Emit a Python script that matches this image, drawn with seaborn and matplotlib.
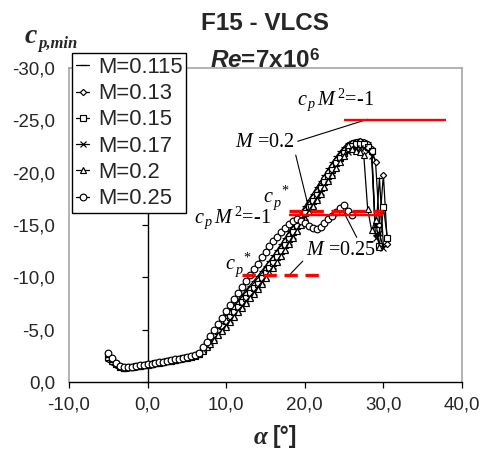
import matplotlib
matplotlib.use("Agg")
import matplotlib.pyplot as plt
import pandas as pd
import seaborn as sns

# ---------------- data ----------------
mach_labels = ["M=0.115", "M=0.13", "M=0.15", "M=0.17", "M=0.2", "M=0.25"]

# angle-of-attack sweep shared by the low-Mach runs (deg), -5 ... 28 every 0.5
alpha_sweep = [
    -5.0, -4.5, -4.0, -3.5, -3.0, -2.5, -2.0, -1.5, -1.0, -0.5,
    0.0, 0.5, 1.0, 1.5, 2.0, 2.5, 3.0, 3.5, 4.0, 4.5,
    5.0, 5.5, 6.0, 6.5, 7.0, 7.5, 8.0, 8.5, 9.0, 9.5,
    10.0, 10.5, 11.0, 11.5, 12.0, 12.5, 13.0, 13.5, 14.0, 14.5,
    15.0, 15.5, 16.0, 16.5, 17.0, 17.5, 18.0, 18.5, 19.0, 19.5,
    20.0, 20.5, 21.0, 21.5, 22.0, 22.5, 23.0, 23.5, 24.0, 24.5,
    25.0, 25.5, 26.0, 26.5, 27.0, 27.5, 28.0,
]

cp_m0115 = [
    -2.0, -1.75, -1.55, -1.4, -1.3, -1.33, -1.38, -1.44, -1.5, -1.56,
    -1.62, -1.68, -1.74, -1.8, -1.86, -1.93, -2.0, -2.07, -2.14, -2.21,
    -2.29, -2.37, -2.46, -2.6, -3.2, -3.75, -4.3, -4.85, -5.4, -5.95,
    -6.5, -6.95, -7.4, -7.85, -8.3, -8.75, -9.2, -9.65, -10.1, -10.6,
    -11.1, -11.6, -12.1, -12.65, -13.2, -13.8, -14.4, -15.0, -15.6, -16.2,
    -16.8, -17.4, -18.0, -18.6, -19.2, -19.8, -20.4, -21.0, -21.55, -22.05,
    -22.5, -22.85, -23.05, -23.15, -23.2, -23.1, -22.9,
]
alpha_tail_m0115 = [28.5, 29.0, 29.5, 30.0]
cp_tail_m0115 = [-22.4, -14.0, -19.5, -13.0]

cp_m013 = [
    -2.2, -1.9, -1.65, -1.43, -1.33, -1.36, -1.41, -1.47, -1.53, -1.59,
    -1.65, -1.71, -1.77, -1.83, -1.89, -1.96, -2.03, -2.1, -2.17, -2.24,
    -2.32, -2.4, -2.49, -2.64, -3.15, -3.65, -4.15, -4.65, -5.15, -5.65,
    -6.15, -6.6, -7.05, -7.5, -7.95, -8.4, -8.85, -9.3, -9.75, -10.25,
    -10.75, -11.25, -11.75, -12.3, -12.85, -13.45, -14.05, -14.65, -15.25, -15.85,
    -16.45, -17.05, -17.65, -18.25, -18.85, -19.45, -20.05, -20.65, -21.2, -21.7,
    -22.2, -22.6, -22.85, -22.95, -23.0, -22.95, -22.7,
]
alpha_tail_m013 = [28.5, 29.0, 29.5, 30.0, 30.5]
cp_tail_m013 = [-22.3, -21.0, -15.0, -19.8, -13.2]

cp_m015 = [
    -2.4, -2.05, -1.72, -1.46, -1.36, -1.39, -1.44, -1.5, -1.55, -1.61,
    -1.67, -1.73, -1.79, -1.85, -1.91, -1.98, -2.05, -2.12, -2.19, -2.26,
    -2.34, -2.42, -2.51, -2.66, -3.1, -3.55, -4.0, -4.45, -4.9, -5.35,
    -5.8, -6.25, -6.7, -7.15, -7.6, -8.05, -8.5, -8.95, -9.4, -9.9,
    -10.4, -10.9, -11.4, -11.95, -12.5, -13.1, -13.7, -14.3, -14.9, -15.5,
    -16.1, -16.7, -17.3, -17.9, -18.5, -19.1, -19.7, -20.3, -20.9, -21.4,
    -21.9, -22.3, -22.55, -22.7, -22.75, -22.7, -22.5,
]
alpha_tail_m015 = [28.5, 29.0, 29.5, 30.0, 30.5]
cp_tail_m015 = [-22.1, -14.5, -13.0, -16.7, -13.8]

cp_m017 = [
    -2.55, -2.1, -1.75, -1.48, -1.37, -1.4, -1.45, -1.51, -1.56, -1.62,
    -1.68, -1.74, -1.8, -1.86, -1.92, -1.99, -2.06, -2.13, -2.2, -2.27,
    -2.35, -2.43, -2.52, -2.67, -3.0, -3.4, -3.8, -4.2, -4.6, -5.0,
    -5.45, -5.9, -6.35, -6.8, -7.25, -7.7, -8.15, -8.6, -9.05, -9.55,
    -10.05, -10.55, -11.05, -11.6, -12.15, -12.75, -13.35, -13.95, -14.55, -15.15,
    -15.75, -16.35, -16.95, -17.55, -18.15, -18.75, -19.35, -19.95, -20.55, -21.05,
    -21.55, -21.95, -22.2, -22.35, -22.4, -22.35, -22.1,
]
alpha_tail_m017 = [28.5, 29.0, 29.5, 30.0]
cp_tail_m017 = [-21.6, -13.8, -14.2, -12.8]

cp_m020 = [
    -2.7, -2.2, -1.8, -1.5, -1.38, -1.41, -1.46, -1.52, -1.57, -1.63,
    -1.69, -1.75, -1.81, -1.87, -1.93, -2.0, -2.07, -2.14, -2.21, -2.28,
    -2.36, -2.44, -2.54, -2.7, -2.95, -3.3, -3.65, -4.05, -4.45, -4.85,
    -5.3, -5.75, -6.2, -6.65, -7.1, -7.55, -8.0, -8.45, -8.9, -9.4,
    -9.9, -10.4, -10.9, -11.45, -12.0, -12.6, -13.2, -13.8, -14.4, -15.0,
    -15.6, -16.2, -16.8, -17.4, -18.0, -18.6, -19.2, -19.8, -20.4, -21.0,
    -21.6, -22.6, -22.3, -22.1, -22.0, -21.7, -16.5,
]
alpha_tail_m020 = [28.5, 29.0, 29.5]
cp_tail_m020 = [-14.5, -15.5, -12.9]

alpha_m025 = [
    -5.0, -4.5, -4.0, -3.5, -3.0, -2.5, -2.0, -1.5, -1.0, -0.5,
    0.0, 0.5, 1.0, 1.5, 2.0, 2.5, 3.0, 3.5, 4.0, 4.5,
    5.0, 5.5, 6.0, 6.5, 7.0, 7.5, 8.0, 8.5, 9.0, 9.5,
    10.0, 10.5, 11.0, 11.5, 12.0, 12.5, 13.0, 13.5, 14.0, 14.5,
    15.0, 15.5, 16.0, 16.5, 17.0, 17.5, 18.0, 18.5, 19.0, 19.5,
    20.0, 20.5, 21.0, 21.5, 22.0, 22.5, 23.0, 23.5, 24.0, 24.5,
    25.0, 25.5, 26.0,
]
cp_m025 = [
    -2.8, -2.25, -1.85, -1.52, -1.4, -1.42, -1.47, -1.53, -1.58, -1.64,
    -1.7, -1.76, -1.82, -1.88, -1.94, -2.01, -2.08, -2.15, -2.22, -2.3,
    -2.38, -2.46, -2.56, -2.75, -3.3, -3.85, -4.4, -4.95, -5.55, -6.15,
    -6.75, -7.35, -7.95, -8.5, -9.1, -9.65, -10.2, -10.75, -11.3, -11.9,
    -12.45, -12.95, -13.45, -13.9, -14.35, -14.75, -15.1, -15.4, -15.55, -15.4,
    -15.15, -14.9, -14.7, -14.65, -14.85, -15.2, -15.55, -15.9, -16.25, -16.6,
    -16.9, -16.3, -16.0,
]

# reference levels: c_p M^2 = -1 and critical c_p* for M=0.2 / M=0.25
level_values = [-25.0, -16.0, -16.31, -10.24]
level_start = [25.0, 18.0, 18.0, 12.0]
level_end = [38.0, 30.0, 30.0, 22.0]
level_dashed = [False, False, True, True]

x_ticks = [-10, 0, 10, 20, 30, 40]
x_tick_labels = ["-10,0", "0,0", "10,0", "20,0", "30,0", "40,0"]
y_ticks = [-30, -25, -20, -15, -10, -5, 0]
y_tick_labels = ["-30,0", "-25,0", "-20,0", "-15,0", "-10,0", "-5,0", "0,0"]

# ---------------- assemble long table ----------------
series_alpha = [
    alpha_sweep + alpha_tail_m0115,
    alpha_sweep + alpha_tail_m013,
    alpha_sweep + alpha_tail_m015,
    alpha_sweep + alpha_tail_m017,
    alpha_sweep + alpha_tail_m020,
    alpha_m025,
]
series_cp = [
    cp_m0115 + cp_tail_m0115,
    cp_m013 + cp_tail_m013,
    cp_m015 + cp_tail_m015,
    cp_m017 + cp_tail_m017,
    cp_m020 + cp_tail_m020,
    cp_m025,
]
frames = []
for lab, a, c in zip(mach_labels, series_alpha, series_cp):
    frames.append(pd.DataFrame({"alpha": a, "cp": c, "M": lab}))
df = pd.concat(frames, ignore_index=True)

# ---------------- style ----------------
sns.set_theme(style="white")
plt.rcParams["font.family"] = ["Liberation Sans", "DejaVu Sans"]
plt.rcParams.update({
    "mathtext.fontset": "custom",
    "mathtext.rm": "Liberation Serif",
    "mathtext.it": "Liberation Serif:italic",
    "mathtext.bf": "Liberation Sans:bold",
    "mathtext.bfit": "Liberation Sans:italic:bold",
})

W, H = 483, 455
fig = plt.figure(figsize=(W / 100, H / 100), dpi=100)
ax = fig.add_axes([69 / W, 73 / H, 393 / W, 314 / H])

marker_styles = {
    "M=0.115": dict(marker="_", markersize=4.5),
    "M=0.13": dict(marker="D", markersize=3.2),
    "M=0.15": dict(marker="s", markersize=4.2),
    "M=0.17": dict(marker="x", markersize=4.5),
    "M=0.2": dict(marker="^", markersize=4.8),
    "M=0.25": dict(marker="o", markersize=4.8),
}

for lab in mach_labels:
    sub = df[df["M"] == lab]
    sns.lineplot(
        data=sub, x="alpha", y="cp", ax=ax, sort=False, estimator=None,
        color="black", linewidth=0.9, markerfacecolor="white",
        markeredgecolor="black", markeredgewidth=0.85, label=lab,
        **marker_styles[lab],
    )

for yv, x0, x1, dashed in zip(level_values, level_start, level_end, level_dashed):
    if dashed:
        ax.hlines(yv, x0, x1, colors="#ff0000", linewidth=2.4,
                  linestyles=(0, (4.0, 2.3)), zorder=4)
    else:
        ax.hlines(yv, x0, x1, colors="#ff0000", linewidth=1.7, zorder=4)

ax.set_xlim(-10, 40)
ax.set_ylim(0, -30)
ax.set_xticks(x_ticks)
ax.set_xticklabels(x_tick_labels)
ax.set_yticks(y_ticks)
ax.set_yticklabels(y_tick_labels)
ax.set_xlabel("")
ax.set_ylabel("")
ax.tick_params(axis="x", direction="out", length=4.5, width=0.9, color="black",
               pad=6, labelsize=13.5, bottom=True)
ax.tick_params(axis="y", length=0, pad=10, labelsize=13.5, left=False)
for side in ["top", "right", "left"]:
    ax.spines[side].set_color("#a6a6a6")
    ax.spines[side].set_linewidth(1.2)
ax.spines["bottom"].set_color("black")
ax.spines["bottom"].set_linewidth(1.0)

# vertical axis line through alpha = 0 carrying the y ticks
sec = ax.secondary_yaxis(0.2)
sec.set_yticks(y_ticks)
sec.tick_params(axis="y", direction="out", length=4.5, width=0.9, color="black",
                labelleft=False, labelright=False)
sec.spines["left"].set_color("black")
sec.spines["left"].set_linewidth(1.0)

# legend above the upper-left corner of the plot area
leg = ax.legend(loc="upper left", bbox_to_anchor=(72 / W, 1 - 53 / H),
                bbox_transform=fig.transFigure, frameon=True, fancybox=False,
                framealpha=1, edgecolor="black", fontsize=15.8, borderpad=0.18,
                labelspacing=0.24, handlelength=0.6, handletextpad=0.4,
                borderaxespad=0)
leg.get_frame().set_linewidth(1.0)

# annotations
ann_font = dict(fontsize=14.5, family="Liberation Serif", color="black")
ax.text(23.9, -27.0, r"$c_{\,p}\,M^{\,2}$=-1", ha="center", va="center", **ann_font)
line_kw = dict(arrowstyle="-", color="black", lw=0.8, shrinkA=0, shrinkB=0)
ax.annotate(r"$M$ =0.2", xy=(28.0, -25.1), xytext=(14.9, -22.9),
            ha="center", va="center",
            arrowprops=dict(relpos=(1.0, 0.5), **line_kw), **ann_font)
ax.annotate(r"$M$ =0.2", xy=(20.6, -16.3), xytext=(14.9, -22.9),
            ha="center", va="center", alpha=0,
            arrowprops=dict(relpos=(1.0, 0.1), **line_kw), **ann_font)
ax.text(16.4, -17.6, r"$c_{\,p}^{\ \ *}$", ha="center", va="center", **ann_font)
ax.text(10.8, -15.7, r"$c_{\,p}\,M^{\,2}$=-1", ha="center", va="center", **ann_font)
ax.annotate(r"$M$ =0.25", xy=(24.9, -16.3), xytext=(24.6, -12.6),
            ha="center", va="center",
            arrowprops=dict(relpos=(0.75, 1.0), **line_kw), **ann_font)
ax.annotate(r"$M$ =0.25", xy=(18.2, -10.35), xytext=(24.6, -12.6),
            ha="center", va="center", alpha=0,
            arrowprops=dict(relpos=(0.0, 0.1), **line_kw), **ann_font)
ax.text(11.6, -11.2, r"$c_{\,p}^{\ \ *}$", ha="center", va="center", **ann_font)

# titles and axis captions
fig.text(265 / W, 1 - 24 / H, "F15 - VLCS", ha="center", va="center",
         fontsize=17.5, fontweight="bold")
fig.text(265 / W, 1 - 61 / H, r"$\mathbfit{Re}$=7x10$^{\mathbf{6}}$",
         ha="center", va="center", fontsize=17.5, fontweight="bold")
fig.text(25 / W, 1 - 43 / H, "c", ha="left", va="baseline", fontsize=20,
         family="Liberation Serif", style="italic", fontweight="bold")
fig.text(38 / W, 1 - 48 / H, "p,min", ha="left", va="baseline", fontsize=12,
         family="Liberation Serif", style="italic", fontweight="bold")
fig.text(268 / W, 1 - 437 / H, "α", ha="right", va="center", fontsize=18,
         family="Liberation Serif", style="italic", fontweight="bold")
fig.text(273 / W, 1 - 437 / H, "[°]", ha="left", va="center", fontsize=16.5,
         fontweight="bold")

fig.savefig("out.png", dpi=100)
